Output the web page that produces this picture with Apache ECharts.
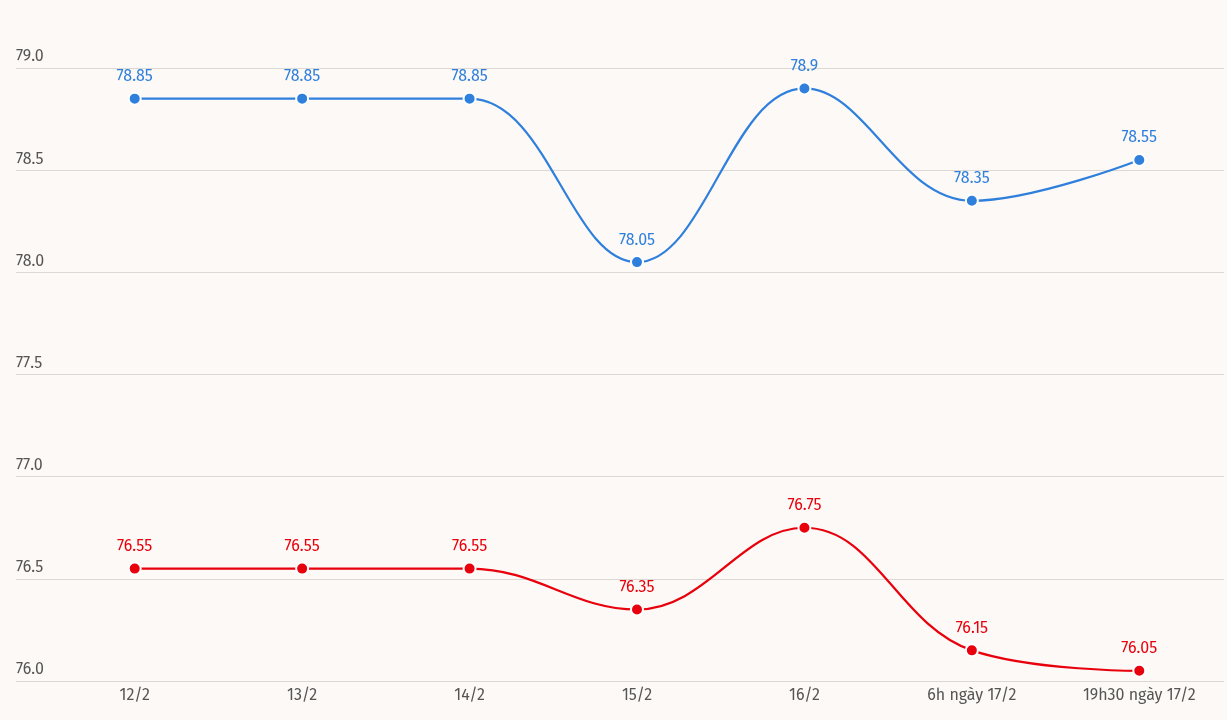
<!DOCTYPE html>
<html>
<head>
<meta charset="utf-8">
<script src="https://cdn.jsdelivr.net/npm/echarts@6/dist/echarts.min.js"></script>
<style>
  html, body { margin: 0; padding: 0; background: #fdf9f6; }
  #main { width: 1227px; height: 720px; }
</style>
</head>
<body>
<div id="main"></div>
<script>
const categories = ['12/2', '13/2', '14/2', '15/2', '16/2', '6h ngày 17/2', '19h30 ngày 17/2'];
const blueValues = [78.85, 78.85, 78.85, 78.05, 78.9, 78.35, 78.55];
const redValues = [76.55, 76.55, 76.55, 76.35, 76.75, 76.15, 76.05];
const yMin = 76, yMax = 79, yStep = 0.5;

const font = '"Fira Sans", "Noto Sans", sans-serif';
const blue = '#2f80dd';
const red = '#e8000c';

function lineSeries(name, data, color) {
  return {
    name: name,
    type: 'line',
    data: data,
    smooth: 0.4,
    symbol: 'circle',
    symbolSize: 12,
    lineStyle: { color: color, width: 2.2 },
    itemStyle: { color: color, borderColor: '#fff', borderWidth: 2 },
    label: {
      show: true,
      position: 'top',
      distance: 7,
      color: color,
      fontSize: 16,
      fontFamily: font
    },
    emphasis: { disabled: true }
  };
}

const chart = echarts.init(document.getElementById('main'));
chart.setOption({
  backgroundColor: '#fdf9f6',
  animation: false,
  grid: [
    { left: 51, right: 4, top: 68, bottom: 39 },
    { left: 16, right: 3, top: 68, bottom: 39 }
  ],
  xAxis: [
    {
      type: 'category',
      gridIndex: 0,
      data: categories,
      boundaryGap: true,
      axisLine: { show: false },
      axisTick: { show: false },
      axisLabel: { color: '#555', fontSize: 16, fontFamily: font, margin: 7 }
    },
    { type: 'value', gridIndex: 1, show: false }
  ],
  yAxis: [
    {
      type: 'value', gridIndex: 0, min: yMin, max: yMax, interval: yStep,
      show: false
    },
    {
      type: 'value', gridIndex: 1, min: yMin, max: yMax, interval: yStep,
      axisLine: { show: false },
      axisTick: { show: false },
      splitLine: { lineStyle: { color: '#dcd8d4', width: 1 } },
      axisLabel: {
        inside: true,
        margin: 0,
        verticalAlign: 'bottom',
        padding: [0, 0, 3, 0],
        color: '#555',
        fontSize: 16,
        fontFamily: font,
        formatter: v => v.toFixed(1)
      }
    }
  ],
  series: [
    lineSeries('blue', blueValues, blue),
    lineSeries('red', redValues, red)
  ]
});
</script>
</body>
</html>
